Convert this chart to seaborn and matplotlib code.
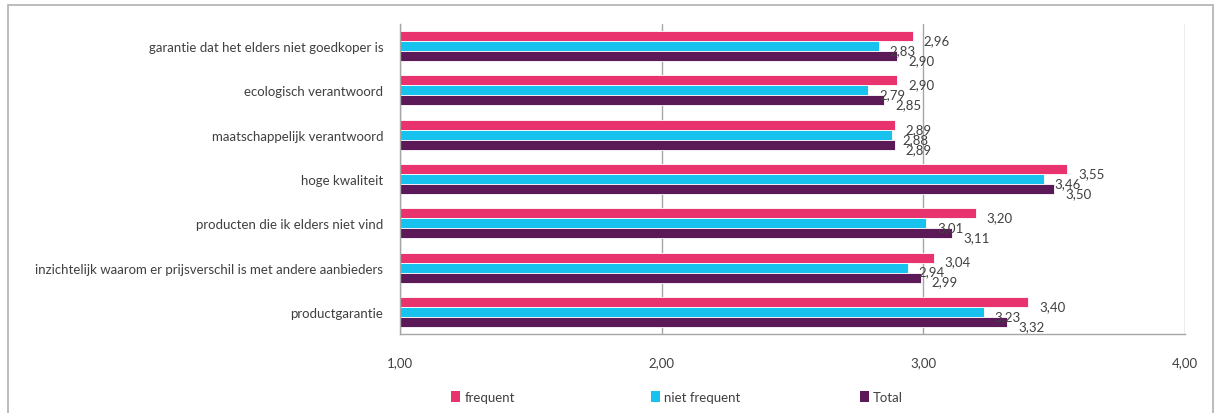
import matplotlib
matplotlib.use("Agg")
import matplotlib.pyplot as plt
from matplotlib.patches import Rectangle
import seaborn as sns
import pandas as pd

# Survey items (top to bottom) and mean scores per respondent group
categories = [
    "garantie dat het elders niet goedkoper is",
    "ecologisch verantwoord",
    "maatschappelijk verantwoord",
    "hoge kwaliteit",
    "producten die ik elders niet vind",
    "inzichtelijk waarom er prijsverschil is met andere aanbieders",
    "productgarantie",
]
frequent = [2.96, 2.90, 2.89, 3.55, 3.20, 3.04, 3.40]
niet_frequent = [2.83, 2.79, 2.88, 3.46, 3.01, 2.94, 3.23]
total = [2.90, 2.85, 2.89, 3.50, 3.11, 2.99, 3.32]
series_names = ["frequent", "niet frequent", "Total"]
x_ticks = [1, 2, 3, 4]

colors = ["#E8336F", "#17C3EE", "#5B1957"]

rows = []
for name, vals in zip(series_names, [frequent, niet_frequent, total]):
    for cat, v in zip(categories, vals):
        rows.append({"item": cat, "score": v, "groep": name})
df = pd.DataFrame(rows)

sns.set_theme(style="white")
plt.rcParams["font.family"] = ["Lato", "DejaVu Sans"]
text_color = "#404040"

fig = plt.figure(figsize=(12.17, 4.14), dpi=100)
ax = fig.add_axes([400 / 1217, 1 - 335 / 414, 785 / 1217, 310 / 414])

sns.barplot(
    data=df, y="item", x="score", hue="groep",
    order=categories, hue_order=series_names, palette=colors,
    saturation=1, orient="h", width=0.68, edgecolor="white", linewidth=0.6,
    legend=False, ax=ax,
)

ax.set_xlim(1, 4)
ax.set_xticks(x_ticks)
ax.set_xticklabels([f"{t:.2f}".replace(".", ",") for t in x_ticks])
ax.set_xlabel("")
ax.set_ylabel("")
ax.tick_params(axis="x", length=0, pad=16, labelsize=9.5, colors=text_color)
ax.tick_params(axis="y", length=0, pad=12, labelsize=9.5, colors=text_color)

# vertical gridlines and frame
ax.grid(axis="x", color="#a6a6a6", linewidth=1)
ax.set_axisbelow(True)
for side in ["top", "right"]:
    ax.spines[side].set_visible(False)
for side in ["left", "bottom"]:
    ax.spines[side].set_color("#a6a6a6")
    ax.spines[side].set_linewidth(1)

# value labels at the end of each bar
for container in ax.containers:
    for bar in container:
        val = bar.get_width()
        yc = bar.get_y() + bar.get_height() / 2
        ax.annotate(
            f"{val:.2f}".replace(".", ","),
            xy=(val, yc), xytext=(11, -4), textcoords="offset pixels",
            ha="left", va="center", fontsize=9.5, color=text_color,
            annotation_clip=False,
        )

# legend below the plot, one slot per series
legend_x = [451, 651, 860]
for name, c, lx in zip(series_names, colors, legend_x):
    handle = Rectangle((0, 0), 1, 1, facecolor=c, edgecolor="none")
    fig.legend(
        [handle], [name], loc="center left",
        bbox_to_anchor=(lx / 1217, 1 - 398 / 414), frameon=False,
        fontsize=9.5, handlelength=0.65, handleheight=0.95, handletextpad=0.35,
        borderpad=0, borderaxespad=0, labelcolor=text_color,
    )

# outer frame around the chart
fig.patches.append(Rectangle(
    (8 / 1217, -0.05), 1205 / 1217, 1.05 - 6 / 414,
    transform=fig.transFigure, fill=False, edgecolor="#b0b0b0", linewidth=1.2,
))

fig.savefig("out.png", dpi=100)
